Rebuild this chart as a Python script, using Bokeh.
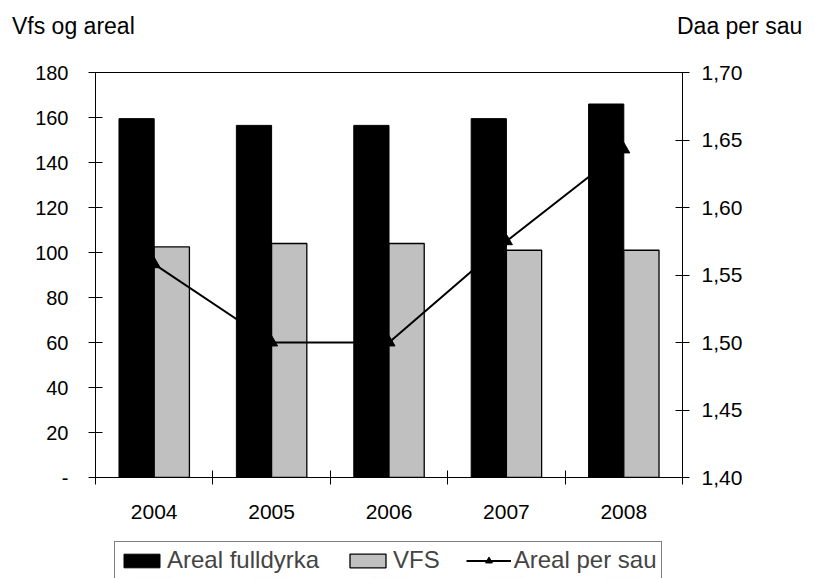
from bokeh.plotting import figure
from bokeh.models import (ColumnDataSource, Range1d, LinearAxis, FixedTicker, Div,
                          CustomJSTickFormatter, Legend, LegendItem, Grid)
from bokeh.layouts import column, row
from bokeh.transform import dodge
from bokeh.embed import file_html
from bokeh.resources import INLINE

years = ["2004", "2005", "2006", "2007", "2008"]
areal_fulldyrka = [159.5, 156.5, 156.5, 159.5, 166]
vfs = [102.5, 104, 104, 101, 101]
areal_per_sau = [1.558, 1.50, 1.50, 1.575, 1.643]
left_ticks = [0, 20, 40, 60, 80, 100, 120, 140, 160, 180]
right_ticks = [1.40, 1.45, 1.50, 1.55, 1.60, 1.65, 1.70]
left_title = "Vfs og areal"
right_title = "Daa per sau"
series_names = ["Areal fulldyrka", "VFS", "Areal per sau"]

FONT = "Liberation Sans"
FS = "20px"

n = len(years)
pos = [i + 0.5 for i in range(n)]          # category centres
boundary_ticks = list(range(n + 1))         # category boundaries

src = ColumnDataSource(dict(year=years, pos=pos, areal=areal_fulldyrka, vfs=vfs, per_sau=areal_per_sau))

def hide_grids(fig):
    for r in list(fig.center):
        if isinstance(r, Grid):
            r.visible = False

p = figure(frame_width=587, frame_height=405, output_backend="svg", toolbar_location=None,
           x_range=Range1d(0, n), y_range=Range1d(0, 180),
           x_axis_location=None, y_axis_location=None,
           min_border_left=95, min_border_right=127, min_border_top=32, min_border_bottom=60)
p.extra_y_ranges = {"r": Range1d(1.40, 1.70)}
hide_grids(p)
p.outline_line_color = "black"
p.outline_line_width = 1
p.background_fill_color = "white"
p.border_fill_color = "white"

bar_black = dict(fill_color="black", line_color="black", line_width=1)
bar_grey = dict(fill_color="#c0c0c0", line_color="black", line_width=1.3)
line_style = dict(line_color="black", line_width=2)
marker_style = dict(marker="triangle", size=12, fill_color="black", line_color="black")

p.vbar(x=dodge("pos", -0.15), top="areal", width=0.3, source=src, **bar_black)
p.vbar(x=dodge("pos", 0.15), top="vfs", width=0.3, source=src, **bar_grey)
p.line(x="pos", y="per_sau", source=src, y_range_name="r", **line_style)
p.scatter(x="pos", y="per_sau", source=src, y_range_name="r", **marker_style)

def style_axis(ax, size=FS):
    ax.axis_line_color = "black"
    ax.axis_line_width = 1
    ax.major_tick_line_color = "black"
    ax.major_label_text_font = FONT
    ax.major_label_text_font_size = size
    ax.major_label_text_color = "black"

ly = LinearAxis(ticker=FixedTicker(ticks=left_ticks),
                formatter=CustomJSTickFormatter(code="return tick == 0 ? '-' : String(tick);"))
style_axis(ly)
ly.major_tick_in = 7
ly.major_tick_out = 7
ly.minor_tick_line_color = None
ly.major_label_standoff = 20
p.add_layout(ly, "left")

ry = LinearAxis(y_range_name="r", ticker=FixedTicker(ticks=right_ticks),
                formatter=CustomJSTickFormatter(code="return tick.toFixed(2).replace('.', ',');"))
style_axis(ry, "21px")
ry.major_tick_in = 7
ry.major_tick_out = 7
ry.minor_tick_line_color = None
ry.major_label_standoff = 12
p.add_layout(ry, "right")

xa = LinearAxis(ticker=FixedTicker(ticks=pos, minor_ticks=boundary_ticks),
                formatter=CustomJSTickFormatter(args=dict(years=years),
                                                code="return years[Math.floor(tick)];"))
style_axis(xa, "21px")
xa.major_tick_in = 0
xa.major_tick_out = 0
xa.minor_tick_in = 7
xa.minor_tick_out = 7
xa.minor_tick_line_color = "black"
xa.major_label_standoff = 20
p.add_layout(xa, "below")

# legend strip below the chart (its series sit far outside this strip's visible ranges)
lg = figure(width=809, height=41, output_backend="svg", toolbar_location=None,
            x_range=Range1d(0, n), y_range=Range1d(1000, 1001),
            x_axis_location=None, y_axis_location=None, min_border=0)
hide_grids(lg)
lg.outline_line_color = None
lg.background_fill_color = "white"
lg.border_fill_color = "white"
k1 = lg.vbar(x="pos", top="areal", width=0.3, source=src, **bar_black)
k2 = lg.vbar(x="pos", top="vfs", width=0.3, source=src, **bar_grey)
k3 = lg.line(x="pos", y="per_sau", source=src, **line_style)
k4 = lg.scatter(x="pos", y="per_sau", source=src, **marker_style)

legend = Legend(items=[LegendItem(label=series_names[0], renderers=[k1]),
                       LegendItem(label=series_names[1], renderers=[k2]),
                       LegendItem(label=series_names[2], renderers=[k3, k4])],
                orientation="horizontal", location=(19, -1),
                border_line_color="black", border_line_width=1, background_fill_color="white",
                glyph_width=45, glyph_height=17, label_standoff=3, spacing=26, padding=4,
                label_text_font=FONT, label_text_font_size="24px", label_height=17, margin=0)
lg.add_layout(legend, "center")

title_style = {"font-family": FONT, "font-size": "23px", "color": "black", "white-space": "nowrap"}
d1 = Div(text=left_title, width=653, height=30, margin=(10, 0, 0, 12), styles=title_style)
d2 = Div(text=right_title, width=140, height=30, margin=(10, 0, 0, 12), styles=title_style)

layout = column(row(d1, d2), p, lg)
open("out.html", "w").write(file_html(layout, INLINE))
